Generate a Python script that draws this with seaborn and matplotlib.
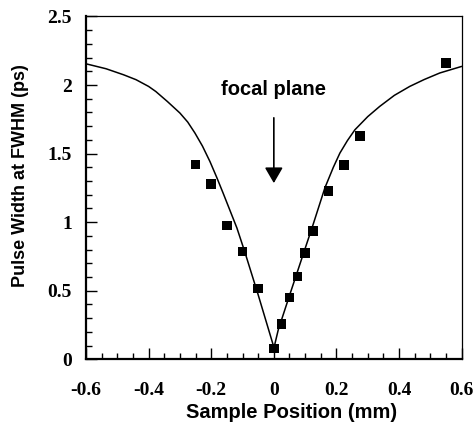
import matplotlib
matplotlib.use("Agg")
import matplotlib.pyplot as plt
import seaborn as sns
import pandas as pd
from matplotlib.ticker import MultipleLocator

# measured data points
pos_mm = [-0.25, -0.2, -0.15, -0.1, -0.05, 0.0, 0.025, 0.05, 0.075, 0.1, 0.125, 0.175, 0.225, 0.275, 0.55]
width_ps = [1.42, 1.28, 0.975, 0.785, 0.515, 0.078, 0.258, 0.452, 0.603, 0.776, 0.936, 1.228, 1.418, 1.63, 2.16]

# fitted curve
fit_x = [-0.60, -0.536, -0.48, -0.44, -0.40, -0.377, -0.34, -0.30, -0.275, -0.252, -0.228, -0.204,
         -0.183, -0.162, -0.14, -0.118, -0.093, -0.05, -0.002, 0.0, 0.014, 0.05, 0.09, 0.125,
         0.163, 0.19, 0.211, 0.235, 0.259, 0.30, 0.338, 0.385, 0.434, 0.48, 0.53, 0.60]
fit_y = [2.155, 2.119, 2.075, 2.039, 1.99, 1.953, 1.88, 1.796, 1.73, 1.650, 1.555, 1.442,
         1.33, 1.212, 1.085, 0.958, 0.785, 0.47, 0.104, 0.08, 0.214, 0.465, 0.74, 0.98,
         1.25, 1.40, 1.504, 1.595, 1.674, 1.77, 1.844, 1.925, 1.99, 2.04, 2.088, 2.136]

x_ticks = [-0.6, -0.4, -0.2, 0, 0.2, 0.4, 0.6]
x_tick_labels = ["-0.6", "-0.4", "-0.2", "0", "0.2", "0.4", "0.6"]
y_ticks = [0, 0.5, 1, 1.5, 2, 2.5]
y_tick_labels = ["0", "0.5", "1", "1.5", "2", "2.5"]

sns.set_theme(style="ticks")
plt.rcParams["font.family"] = ["Liberation Sans", "DejaVu Sans"]

fig = plt.figure(figsize=(4.75, 4.25), dpi=100)
ax = fig.add_axes([0.181, 0.1546, 0.791, 0.8066])

df_fit = pd.DataFrame({"x": fit_x, "y": fit_y})
df_pts = pd.DataFrame({"x": pos_mm, "y": width_ps})

sns.lineplot(data=df_fit, x="x", y="y", ax=ax, color="black", linewidth=1.1, sort=False)
sns.scatterplot(data=df_pts, x="x", y="y", ax=ax, marker="s", s=48, color="black",
                edgecolor="none", zorder=3)

ax.set_xlim(-0.6, 0.6)
ax.set_ylim(0, 2.5)
ax.set_xticks(x_ticks)
ax.set_xticklabels(x_tick_labels)
ax.set_yticks(y_ticks)
ax.set_yticklabels(y_tick_labels)
ax.xaxis.set_minor_locator(MultipleLocator(0.05))
ax.yaxis.set_minor_locator(MultipleLocator(0.1))

ax.tick_params(axis="both", which="major", direction="in", length=8, width=1.0, color="black")
ax.tick_params(axis="both", which="minor", direction="in", length=4, width=1.0, color="black")
ax.tick_params(axis="x", which="major", pad=16)
ax.tick_params(axis="y", which="major", pad=10)
ax.tick_params(top=False, right=False, which="both")
for lab in ax.get_xticklabels() + ax.get_yticklabels():
    lab.set_fontfamily("Liberation Serif")
    lab.set_fontweight("bold")
    lab.set_fontsize(14)
    lab.set_color("black")

for side in ["left", "bottom"]:
    ax.spines[side].set_linewidth(1.6)
    ax.spines[side].set_color("black")
for side in ["top", "right"]:
    ax.spines[side].set_linewidth(0.9)
    ax.spines[side].set_color("black")
    ax.spines[side].set_visible(True)

ax.set_xlabel("Sample Position (mm)", fontsize=14.5, fontweight="bold", color="black")
ax.xaxis.set_label_coords(0.546, -0.128)
ax.set_ylabel("Pulse Width at FWHM (ps)", fontsize=13, fontweight="bold", color="black")
ax.yaxis.set_label_coords(-0.152, 0.535)

ax.text(0, 1.966, "focal plane", ha="center", va="center", fontsize=14.5,
        fontweight="bold", color="black")
ax.annotate("", xy=(0, 1.285), xytext=(0, 1.761),
            arrowprops=dict(arrowstyle="-|>,head_length=0.95,head_width=0.55",
                            lw=1.2, color="black", mutation_scale=10,
                            shrinkA=0, shrinkB=0))

fig.savefig("out.png", dpi=100)
